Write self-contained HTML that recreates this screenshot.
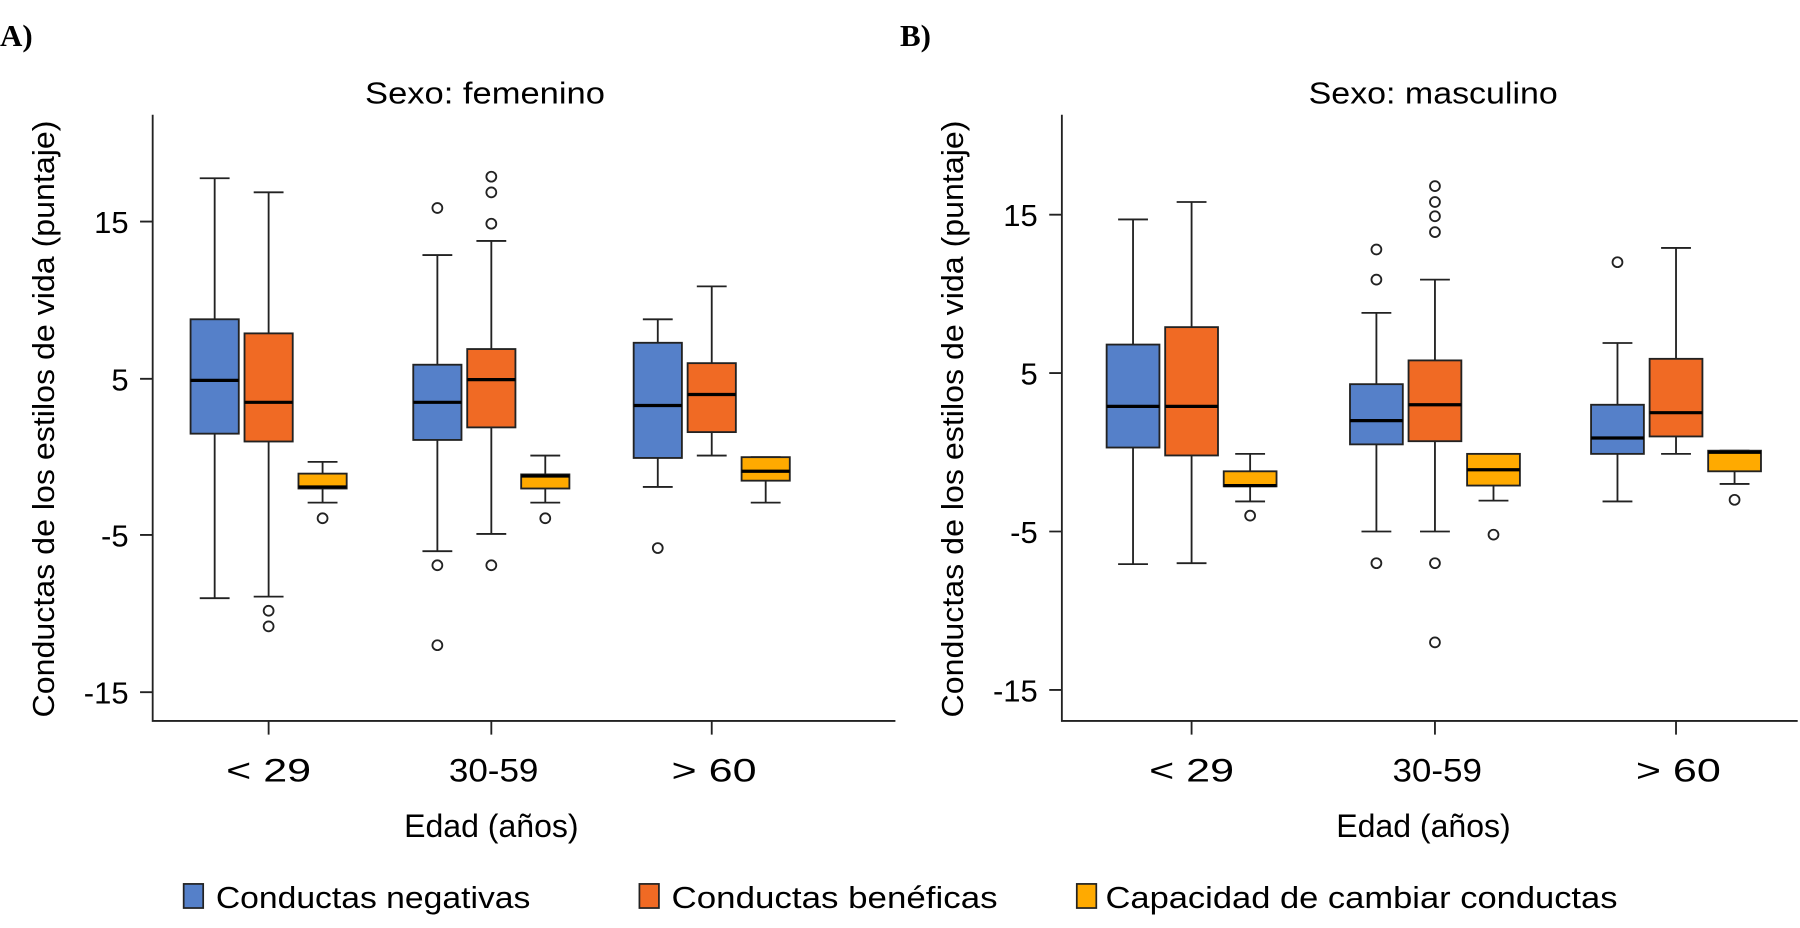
<!DOCTYPE html>
<html><head><meta charset="utf-8"><style>
html,body{margin:0;padding:0;background:#fff;}
svg{display:block;font-family:"Liberation Sans",sans-serif;}
</style></head><body>
<svg id="s" width="1800" height="928" viewBox="0 0 1568 808.4" preserveAspectRatio="none" xmlns="http://www.w3.org/2000/svg">
<rect width="1568" height="808.4" fill="#fff"/>
<text x="0" y="40" font-size="27" font-weight="bold" font-family="Liberation Serif, serif">A)</text>
<text x="784" y="40" font-size="27" font-weight="bold" font-family="Liberation Serif, serif">B)</text>
<text x="318" y="90" font-size="27" textLength="209" lengthAdjust="spacingAndGlyphs">Sexo: femenino</text>
<text x="1140" y="90" font-size="27" textLength="217" lengthAdjust="spacingAndGlyphs">Sexo: masculino</text>
<text transform="translate(47,365) rotate(-90)" font-size="27" text-anchor="middle" textLength="520" lengthAdjust="spacingAndGlyphs">Conductas de los estilos de vida (puntaje)</text>
<text transform="translate(839,365) rotate(-90)" font-size="27" text-anchor="middle" textLength="520" lengthAdjust="spacingAndGlyphs">Conductas de los estilos de vida (puntaje)</text>
<g stroke="#222" stroke-width="1.6" fill="none">
<path d="M133,100 V628 H780"/>
<path d="M925,100 V628 H1566"/>
</g>
<g font-size="27" text-anchor="end">
<text x="112" y="203">15</text><text x="112" y="340">5</text><text x="112" y="476">-5</text><text x="112" y="613">-15</text>
<text x="904" y="197">15</text><text x="904" y="335">5</text><text x="904" y="473">-5</text><text x="904" y="611">-15</text>
</g>
<g stroke="#222" stroke-width="1.6">
<path d="M122,193H133M122,330H133M122,466H133M122,603H133"/>
<path d="M914,187H925M914,325H925M914,463H925M914,601H925"/>
<path d="M234,628V640M428,628V640M620,628V640M1038,628V640M1250,628V640M1460,628V640"/>
</g>
<g font-size="28" text-anchor="middle">
<text x="234" y="681" textLength="74" lengthAdjust="spacingAndGlyphs">&lt; 29</text><text x="430" y="681" textLength="78" lengthAdjust="spacingAndGlyphs">30-59</text><text x="622" y="681" textLength="74" lengthAdjust="spacingAndGlyphs">&gt; 60</text>
<text x="1038" y="681" textLength="74" lengthAdjust="spacingAndGlyphs">&lt; 29</text><text x="1252" y="681" textLength="78" lengthAdjust="spacingAndGlyphs">30-59</text><text x="1462" y="681" textLength="74" lengthAdjust="spacingAndGlyphs">&gt; 60</text>
<text x="428" y="729" textLength="152" lengthAdjust="spacingAndGlyphs">Edad (años)</text><text x="1240" y="729" textLength="152" lengthAdjust="spacingAndGlyphs">Edad (años)</text>
</g>
<g font-size="27">
<rect x="160" y="770" width="17" height="21" fill="#5580C9" stroke="#222" stroke-width="1.5"/>
<text x="188" y="791" textLength="274" lengthAdjust="spacingAndGlyphs">Conductas negativas</text>
<rect x="557" y="770" width="17" height="21" fill="#F06A24" stroke="#222" stroke-width="1.5"/>
<text x="585" y="791" textLength="284" lengthAdjust="spacingAndGlyphs">Conductas benéficas</text>
<rect x="938" y="770" width="17" height="21" fill="#FFAA00" stroke="#222" stroke-width="1.5"/>
<text x="963" y="791" textLength="446" lengthAdjust="spacingAndGlyphs">Capacidad de cambiar conductas</text>
</g>
<g id="boxes"></g>
</svg>
<script>
var C=["#5580C9","#F06A24","#FFAA00"];
var P=[
 {ticks:[234,428,620],off:47,w:42,y:function(v){return 330-(v-5)*13.65;},g:[
  [[-9,1.5,4.9,8.8,17.8,[]],[-8.9,1.0,3.5,7.9,16.9,[-9.8,-10.8]],[-2.9,-2.0,-1.9,-1.05,-0.3,[-3.9]]],
  [[-6,1.1,3.5,5.9,12.9,[15.9,-6.9,-12]],[-4.9,1.9,4.95,6.9,13.8,[17.9,16.9,14.9,-6.9]],[-2.9,-2.0,-1.2,-1.1,0.1,[-3.9]]],
  [[-1.9,-0.05,3.3,7.3,8.8,[-5.8]],[0.1,1.6,4.0,6.0,10.9,[]],[-2.9,-1.5,-0.9,0,0,[]]]]},
 {ticks:[1038,1250,1460],off:51,w:46,y:function(v){return 325-(v-5)*13.8;},g:[
  [[-7.06,0.3,2.9,6.8,14.7,[]],[-7,-0.2,2.9,7.9,15.8,[]],[-3.1,-2.15,-2.1,-1.2,-0.1,[-4]]],
  [[-5,0.5,2.0,4.3,8.8,[12.8,10.9,-7]],[-5,0.7,3.0,5.8,10.9,[16.8,15.8,14.9,13.9,-7,-12]],[-3.05,-2.1,-1.1,-0.1,-0.1,[-5.2]]],
  [[-3.1,-0.1,0.9,3.0,6.9,[12]],[-0.1,1.0,2.5,5.9,12.9,[]],[-2.0,-1.2,0.0,0.1,0.1,[-3.0]]]]}
];
var h="";
P.forEach(function(p){p.g.forEach(function(g,gi){g.forEach(function(b,k){
 var cx=p.ticks[gi]+(k-1)*p.off, y=p.y, hw=p.w/2, cw=13;
 h+='<path d="M'+cx+','+y(b[0])+'V'+y(b[1])+'M'+cx+','+y(b[3])+'V'+y(b[4])+'M'+(cx-cw)+','+y(b[0])+'H'+(cx+cw)+'M'+(cx-cw)+','+y(b[4])+'H'+(cx+cw)+'" stroke="#222" stroke-width="1.6" fill="none"/>';
 h+='<rect x="'+(cx-hw)+'" y="'+y(b[3])+'" width="'+p.w+'" height="'+(y(b[1])-y(b[3]))+'" fill="'+C[k]+'" stroke="#222" stroke-width="1.6"/>';
 h+='<path d="M'+(cx-hw)+','+y(b[2])+'H'+(cx+hw)+'" stroke="#000" stroke-width="2.8"/>';
 b[5].forEach(function(o){h+='<circle cx="'+cx+'" cy="'+y(o)+'" r="4.3" fill="none" stroke="#222" stroke-width="1.6"/>';});
});});});
document.getElementById("boxes").innerHTML=h;
</script>
</body></html>
